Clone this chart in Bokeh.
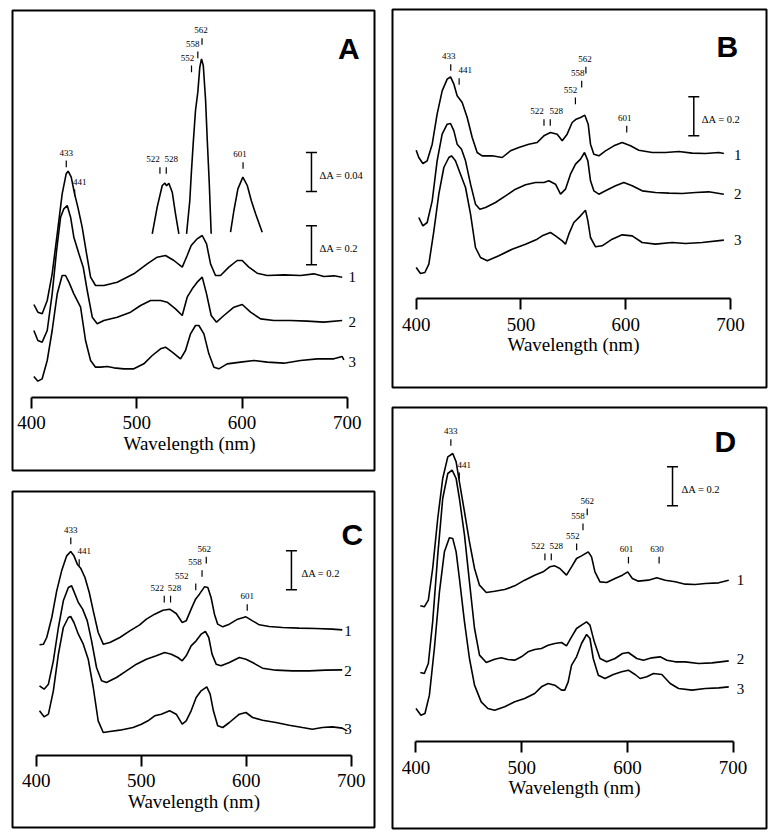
from bokeh.plotting import figure
from bokeh.models import Range1d, LinearAxis, FixedTicker, ColumnDataSource
from bokeh.layouts import row, column
from bokeh.embed import file_html
from bokeh.resources import INLINE
from bokeh.core.properties import value

# ---------------- data (wavelength nm, relative absorbance in a.u.) ----------------
TICKS_NM = [400, 500, 600, 700]
AXIS_LABEL = "Wavelength (nm)"
CURVE_NAMES = ["1", "2", "3"]
AU_PER_ABS = 585          # a.u. per absorbance unit (scale bar dA=0.2 -> 117 a.u.)
INSET_MAG = 5             # magnification of panel A inset

A1 = [(402.2,498),(406,475),(410.1,470),(414.9,510),(419.6,590),(424.4,710),(429.1,830),(432.9,890),(434.8,898),
      (437.7,880),(440.9,830),(444,790),(448.1,730),(452.3,650),(456.1,580),(460.8,555),(468.7,555),(481.4,565),
      (497.2,590),(509.9,620),(519.4,640),(527.3,645),(535.3,630),(543.2,610),(547.9,645),(551.7,675),(557.4,695),
      (562.2,705),(566.3,680),(570.1,620),(574.8,585),(579.6,585),(587.5,610),(595.4,630),(600.2,630),(606.5,610),
      (614.4,592),(624,585),(639.8,587),(655.6,585),(668.3,590),(677.8,582),(687.3,584),(695.2,580)]
A2 = [(402.2,420),(406,390),(410.1,385),(414.9,420),(419.6,530),(423.8,660),(427.6,760),(430.7,785),(433.9,795),
      (437.1,760),(440.2,700),(445,650),(449.1,610),(452.9,540),(457.7,460),(462.4,440),(468.7,450),(481.4,460),
      (494.1,475),(503.6,495),(513.1,510),(522.6,510),(528.9,505),(536.8,485),(543.2,465),(547.9,520),(552.7,545),
      (557.4,565),(562.2,580),(566.3,530),(570.7,465),(575.8,445),(582.8,465),(592.3,490),(600.2,498),(608.1,475),
      (617.6,455),(630.3,450),(646.1,450),(662,448),(677.8,445),(695.2,450)]
A3 = [(402.2,282),(406,268),(410.1,275),(414.9,330),(419.6,420),(424.4,530),(429.1,585),(432.3,585),(435.5,565),
      (440.2,530),(446.6,490),(451.3,390),(456.1,330),(460.8,310),(465.6,310),(471.9,312),(478.2,308),(487.7,305),
      (497.2,305),(506.7,320),(514.7,345),(522.6,365),(527.3,370),(533.7,355),(541.6,335),(546.3,360),(551.1,410),
      (555.8,435),(559,435),(563.8,410),(568.5,350),(573.3,310),(578,305),(585.9,320),(598.6,325),(611.3,330),
      (624,325),(639.8,322),(655.6,330),(671.5,335),(687.3,335),(695.2,342),(696.8,332)]
A_INSET1 = [(514.7,710),(519.4,790),(524.2,855),(526.7,862),(528.3,854),(530.5,862),(533.7,835),(536.8,770),(540,710)]
A_INSET2 = [(547.3,710),(550.4,810),(551.8,890),(553.6,980),(555.8,1080),(558,1135),(559.9,1210),(561.5,1235),
            (563.2,1215),(565.4,1110),(567,990),(568.9,860),(570.7,710)]
A_INSET3 = [(589.1,715),(592.3,780),(596.1,845),(600.8,880),(605,855),(608.8,810),(612.9,770),(619.2,715)]

B1 = [(400,712),(402.5,690),(406.4,672),(410.5,680),(415.3,730),(420,820),(424.8,890),(429.6,925),(432.8,932),
      (436,910),(439.1,875),(443.9,855),(448.7,810),(453.5,750),(458.2,705),(463,695),(472.5,695),(482.1,690),
      (490,710),(498,720),(507.5,730),(515.5,735),(521.9,755),(528.2,765),(534.6,760),(539.4,740),(544.1,760),
      (548.9,795),(552.7,805),(556.9,810),(561,817),(564.2,790),(566.4,730),(569.6,700),(574.4,695),(580.7,710),
      (588.7,725),(596.6,735),(604.6,725),(612.5,712),(625.3,705),(638,705),(650.7,708),(663.4,703),(676.2,702),
      (688.9,705),(693.7,702)]
B2 = [(402.5,510),(406.4,485),(410.5,495),(415.3,560),(420,680),(424.8,760),(429.6,790),(432.8,792),(436,770),
      (439.1,730),(443.3,715),(447.1,680),(451.9,610),(456.6,550),(460.8,535),(466.2,540),(475.7,555),(485.3,575),
      (494.8,595),(504.4,608),(513.9,615),(521.9,615),(526.6,620),(533,610),(537.8,580),(542.5,595),(547.3,640),
      (552.1,670),(556.9,685),(560.7,705),(563.9,680),(566.4,620),(569.6,590),(574.4,580),(580.7,590),(590.3,605),
      (598.2,615),(606.2,605),(615.7,590),(628.4,585),(641.2,583),(653.9,582),(666.6,585),(679.3,587),(693.7,580)]
B3 = [(400,360),(404.1,342),(408.3,345),(412.1,370),(416.9,470),(421.6,580),(426.4,660),(431.2,690),(433.7,695),
      (437.5,680),(442.3,640),(447.1,600),(451.9,520),(456.6,420),(461.4,390),(467.8,380),(478.9,395),(491.6,415),
      (504.4,430),(515.5,445),(520.3,455),(528.2,465),(533,455),(539.4,440),(542.5,430),(545.7,460),(550.5,495),
      (556.9,515),(561.6,532),(563.9,500),(566.4,450),(571.2,422),(577.5,425),(587.1,445),(596.6,458),(606.2,455),
      (615.7,435),(628.4,430),(644.3,435),(657.1,432),(673,435),(693.7,442)]

C1 = [(403.2,548),(407,550),(410.1,570),(414.9,630),(419.6,710),(424.3,770),(429.1,815),(432.9,828),(436,815),
      (439.2,790),(442.4,778),(446.5,750),(450.6,705),(454.4,650),(459.1,585),(463.9,550),(470.2,555),(479.7,570),
      (489.2,590),(498.6,608),(505,625),(512.9,640),(520.8,652),(527.1,655),(533.4,642),(539.1,615),(542.9,620),
      (547.6,655),(551.8,685),(555.5,700),(560.3,722),(563.5,720),(566.6,690),(569.8,640),(572.9,610),(577.7,602),
      (584,610),(591.9,625),(599.8,632),(606.1,620),(612.5,608),(621.9,603),(634.6,600),(650.4,598),(666.2,597),
      (682,595),(691.5,593)]
C2 = [(403.2,425),(407.6,415),(411.7,430),(416.4,500),(421.2,600),(425.9,680),(430.7,720),(433.8,725),(437,700),
      (440.2,675),(444.3,655),(448.7,620),(452.8,560),(457.5,480),(462.3,440),(467,435),(476.5,450),(486,470),
      (495.5,490),(505,505),(514.4,515),(522.4,525),(528.7,520),(535,510),(539.1,500),(542.9,515),(547.6,545),
      (552.4,560),(557.1,580),(561.2,588),(564.4,570),(567.5,520),(571.4,490),(576.1,485),(584,495),(593.5,510),
      (599.8,505),(606.1,495),(615.6,478),(628.3,472),(644.1,470),(659.9,470),(675.7,472),(691.5,473)]
C3 = [(403.2,350),(407.6,332),(411.7,340),(416.4,410),(421.2,520),(425.9,600),(430.7,630),(432.9,633),(436,615),
      (440.2,580),(444.9,550),(449.6,505),(454.4,420),(459.1,320),(463.9,285),(470.2,288),(479.7,292),(492.3,300),
      (500.2,310),(506.5,320),(512.9,335),(519.2,340),(527.1,350),(533.4,340),(539.1,310),(542.9,320),(547.6,350),
      (552.4,390),(557.1,410),(562.5,422),(565.7,400),(568.8,350),(572.9,305),(577.7,300),(584,315),(593.5,340),
      (599.8,345),(606.1,330),(615.6,322),(628.3,315),(641,307),(653.6,300),(663,295),(672.5,300),(682,302),
      (691.5,298),(696.2,290)]

D1 = [(404.1,668),(407.9,665),(411.7,685),(415.8,780),(420.6,930),(425.3,1050),(430.1,1115),(434.8,1125),(438,1100),
      (441.1,1040),(445.9,950),(450.6,860),(455.4,780),(460.1,730),(466.5,708),(474.4,712),(483.9,717),(493.4,728),
      (502.8,745),(512.3,760),(520.3,770),(526.6,785),(531.3,788),(536.1,780),(542.4,760),(547.2,785),(551.9,810),
      (556.6,818),(563,830),(566.1,815),(569.3,770),(574.1,740),(580.4,738),(588.3,750),(595.3,760),(600.3,770),
      (604.7,750),(610.4,742),(619.9,745),(627.8,752),(635.8,745),(645.3,740),(654.7,733),(664.2,732),(673.7,735),
      (686.4,737),(695.9,745)]
D2 = [(404.1,468),(407.9,465),(411.7,495),(415.8,620),(420.6,820),(425.3,990),(430.1,1065),(434.2,1075),(438,1050),
      (441.1,990),(445.9,880),(450.6,740),(455.4,600),(460.1,520),(466.5,498),(474.4,508),(480.7,512),(487,507),
      (493.4,505),(499.7,515),(506,530),(512.3,537),(518.7,540),(525,550),(531.3,555),(537.7,558),(542.4,548),
      (547.2,575),(551.9,600),(556.6,610),(561.4,620),(564.6,610),(568.7,560),(574.1,510),(580.4,500),(588.3,510),
      (595.3,525),(600.9,528),(608.9,510),(615.2,505),(623.1,512),(631,515),(637.3,505),(645.3,500),(654.7,500),
      (667.4,495),(680.1,497),(695.9,503)]
D3 = [(400,360),(404.7,340),(408.5,345),(412.7,400),(417.4,540),(422.2,710),(426.9,830),(431.6,872),(434.8,870),
      (438,830),(441.1,750),(445.9,620),(450.6,510),(455.4,430),(461.7,380),(468,360),(474.4,355),(483.9,365),
      (493.4,380),(502.8,390),(512.3,405),(518.7,425),(525,435),(531.3,430),(537.7,415),(540.8,415),(544,440),
      (547.2,490),(551.9,515),(556.6,555),(561.4,582),(564.6,570),(567.7,510),(572.5,460),(578.8,450),(586.7,462),
      (594.6,470),(600.9,475),(607.3,462),(612,450),(618.4,455),(624.7,465),(632.6,462),(640.5,435),(648.4,420),
      (661.1,415),(673.7,420),(686.4,422),(695.9,425)]

PEAKS_ABC = [433, 441, 522, 528, 552, 558, 562, 601]
PEAKS_D = [433, 441, 522, 528, 552, 558, 562, 601, 630]

SCALE_A = [0.04, 0.2]     # dA of scale bars (first one refers to magnified inset)
SCALE_BCD = [0.2]

# ---------------- layout / style (positions, not data) ----------------
SERIF = "Liberation Serif"
SANS = "Liberation Sans"

LAYOUT = {
    "A": dict(w=380, h=480, mb=(12, 6, 10, 10), xr=(381.9, 725.9), yr=(0, 1380), axis_at=220,
              num_x=704.7, num_y=[580, 445, 325], letter=(701.6, 1265),
              peak_top=[930, 843, 910, 910, 1215, 1257, 1297, 925], peak_dx=[0, 5, -7, 5, -4, -5, -1, -3],
              bar_x=666, bar_bottom=[837, 617], bar_mag=[INSET_MAG, 1], bar_dx=8),
    "B": dict(w=389, h=397, mb=(12, 3, 9, 10), xr=(377.4, 734.4), yr=(0, 1134), axis_at=267,
              num_x=707, num_y=[698, 580, 442], letter=(696.9, 1023),
              peak_top=[970, 928, 805, 805, 870, 920, 962, 785], peak_dx=[-2, 6, -7, 6, -5, -4, -1, -2],
              bar_x=665, bar_bottom=[755], bar_mag=[1], bar_dx=8),
    "C": dict(w=380, h=353, mb=(12, 4, 11, 6), xr=(377.5, 722.2), yr=(0, 1008), axis_at=217,
              num_x=696.9, num_y=[590, 470, 295], letter=(701, 880),
              peak_top=[870, 805, 695, 695, 732, 772, 812, 670], peak_dx=[0, 5, -7, 4, -14, -7, -2, 0],
              bar_x=643.1, bar_bottom=[713], bar_mag=[1], bar_dx=10),
    "D": dict(w=389, h=436, mb=(12, 3, 10, 5), xr=(377.8, 731.6), yr=(0, 1263), axis_at=260,
              num_x=706.9, num_y=[745, 510, 420], letter=(692.7, 1160),
              peak_top=[1168, 1068, 825, 825, 855, 915, 960, 815, 815], peak_dx=[0, 5, -7, 5, -4, -5, 0, -2, -2],
              bar_x=642.7, bar_bottom=[968], bar_mag=[1], bar_dx=9),
}
TICK_LEN = 20


def unzip(pairs):
    return [a for a, _ in pairs], [b for _, b in pairs]


def make_panel(name, curves, insets, peaks, scales):
    L = LAYOUT[name]
    ml, mr, mt, mbot = L["mb"]
    p = figure(width=L["w"], height=L["h"], x_range=Range1d(*L["xr"]), y_range=Range1d(*L["yr"]),
               output_backend="svg", toolbar_location=None, x_axis_location=None, y_axis_location=None,
               min_border_left=ml, min_border_right=mr, min_border_top=mt, min_border_bottom=mbot)
    p.xgrid.visible = False
    p.ygrid.visible = False
    p.background_fill_color = "white"
    p.border_fill_color = "white"
    p.outline_line_color = "black"
    p.outline_line_width = 2

    ax = LinearAxis(fixed_location=L["axis_at"], bounds=(TICKS_NM[0], TICKS_NM[-1]),
                    ticker=FixedTicker(ticks=TICKS_NM), axis_label=AXIS_LABEL)
    ax.axis_line_width = 2
    ax.axis_line_color = "black"
    ax.major_tick_line_width = 2
    ax.major_tick_line_color = "black"
    ax.major_tick_out = 11
    ax.major_tick_in = 0
    ax.minor_tick_line_color = None
    ax.major_label_text_font = SERIF
    ax.major_label_text_font_size = "19px"
    ax.major_label_text_color = "black"
    ax.major_label_standoff = 8
    ax.axis_label_text_font = SERIF
    ax.axis_label_text_font_size = "19px"
    ax.axis_label_text_font_style = "normal"
    ax.axis_label_text_color = "black"
    ax.axis_label_standoff = 0
    p.add_layout(ax, "below")

    for c in curves:
        x, y = unzip(c)
        p.line(x, y, line_color="black", line_width=1.6)
    for c in insets:
        x, y = unzip(c)
        p.line(x, y, line_color="black", line_width=1.6)

    # curve numbers
    p.text(x=[L["num_x"]] * 3, y=L["num_y"], text=CURVE_NAMES, text_font=value(SERIF),
           text_font_size="15px", text_align="center", text_baseline="middle", text_color="black")

    # peak markers
    tops = L["peak_top"]
    src = ColumnDataSource(dict(x=peaks, y0=[t - TICK_LEN for t in tops], y1=tops,
                                label=[str(v) for v in peaks], dx=L["peak_dx"]))
    p.segment(x0="x", y0="y0", x1="x", y1="y1", source=src, line_color="black", line_width=1.2)
    p.text(x="x", y="y1", text="label", x_offset="dx", y_offset=-8, source=src, text_font=value(SERIF),
           text_font_size="9px", text_align="center", text_baseline="alphabetic", text_color="black")

    # scale bars
    bx = L["bar_x"]
    for dA, bottom, mag in zip(scales, L["bar_bottom"], L["bar_mag"]):
        top = bottom + dA * AU_PER_ABS * mag
        p.segment(x0=[bx], y0=[bottom], x1=[bx], y1=[top], line_color="black", line_width=1.5)
        p.scatter(x=[bx, bx], y=[bottom, top], marker="dash", size=11, line_color="black", line_width=1.5)
        p.text(x=[bx], y=[(bottom + top) / 2], text=["\u0394A = %g" % dA], x_offset=L["bar_dx"], y_offset=3,
               text_font=value(SERIF), text_font_size="10.5px", text_align="left", text_baseline="middle",
               text_color="black")

    # panel letter
    lx, ly = L["letter"]
    p.text(x=[lx], y=[ly], text=[name], text_font=value(SANS), text_font_style="bold",
           text_font_size="30px", text_align="center", text_baseline="middle", text_color="black")
    return p


pA = make_panel("A", [A1, A2, A3], [A_INSET1, A_INSET2, A_INSET3], PEAKS_ABC, SCALE_A)
pB = make_panel("B", [B1, B2, B3], [], PEAKS_ABC, SCALE_BCD)
pC = make_panel("C", [C1, C2, C3], [], PEAKS_ABC, SCALE_BCD)
pD = make_panel("D", [D1, D2, D3], [], PEAKS_D, SCALE_BCD)

layout = row(column(pA, pC), column(pB, pD))
open("out.html", "w").write(file_html(layout, INLINE))
